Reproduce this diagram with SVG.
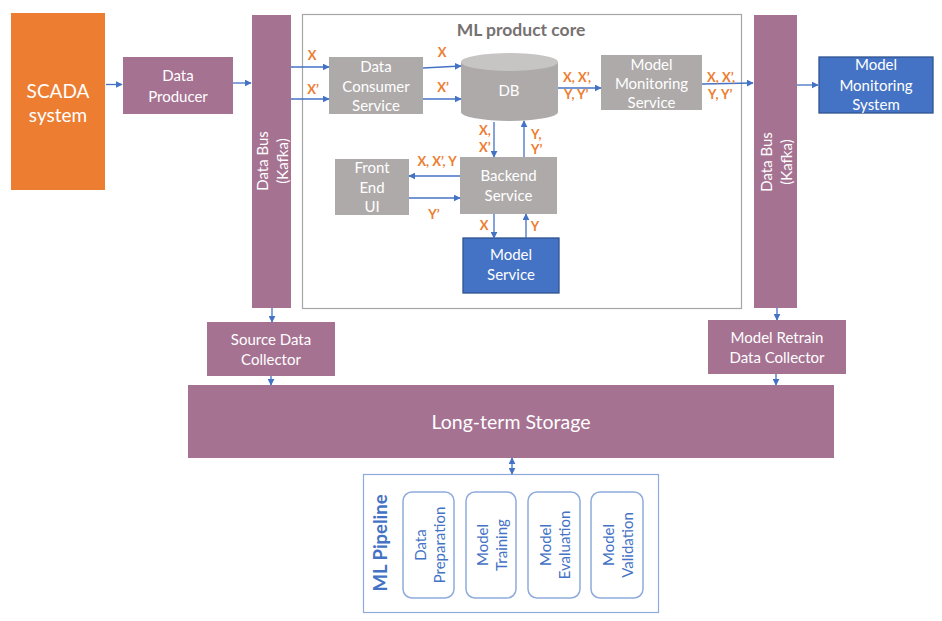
<svg xmlns="http://www.w3.org/2000/svg" width="942" height="621" viewBox="0 0 942 621">
<defs>
<marker id="ah" viewBox="0 0 10 10" refX="9" refY="5" markerWidth="7" markerHeight="7" markerUnits="userSpaceOnUse" orient="auto-start-reverse">
<path d="M0,0 L10,5 L0,10 z" fill="#4472C4"/>
</marker>
<style>
text{font-family:Lato,"Open Sans","Liberation Sans",sans-serif;}
.w{fill:#fff;font-size:15px;text-anchor:middle;}
.big{fill:#fff;font-size:19px;text-anchor:middle;}
.lts{fill:#fff;font-size:19.5px;text-anchor:middle;}
.lbl{fill:#ED7D31;font-size:13px;font-weight:bold;}
.c{text-anchor:middle;}
.purple{fill:#A67292;}
.gray{fill:#AEAAAA;}
.blue{fill:#4472C4;stroke:#2F528F;stroke-width:1.3;}
.conn line{stroke:#4472C4;stroke-width:1.3;marker-end:url(#ah);}
.pl{fill:#fff;stroke:#8FAADC;stroke-width:1.5;}
.pt{fill:#4472C4;font-size:15px;text-anchor:middle;}
</style>
</defs>
<rect width="942" height="621" fill="#fff"/>

<g id="ml-core">
<rect x="302.5" y="14.5" width="439" height="294" fill="none" stroke="#A6A6A6" stroke-width="1.2"/>
<text x="521" y="36" class="c" style="fill:#767171;font-size:17.5px;font-weight:bold">ML product core</text>
</g>

<g id="scada">
<rect x="11" y="13" width="94" height="177" fill="#ED7D31"/>
<text class="big" x="58" y="98">SCADA</text>
<text class="big" x="58" y="122">system</text>
</g>

<g id="data-producer">
<rect class="purple" x="123" y="57" width="110" height="57"/>
<text class="w" x="178" y="81">Data</text>
<text class="w" x="178" y="102">Producer</text>
</g>

<g id="data-bus-left">
<rect class="purple" x="252" y="15" width="39" height="293"/>
<text class="w" transform="translate(271,161) rotate(-90)"><tspan x="0" y="-3">Data Bus</tspan><tspan x="0" y="17">(Kafka)</tspan></text>
</g>

<g id="data-consumer">
<rect class="gray" x="329" y="57" width="94" height="57"/>
<text class="w" x="376" y="72">Data</text>
<text class="w" x="376" y="92">Consumer</text>
<text class="w" x="376" y="111">Service</text>
</g>

<g id="db">
<path d="M461,62 L461,112 A48.5,9 0 0 0 558,112 L558,62 z" fill="#AEAAAA"/>
<ellipse cx="509.5" cy="62" rx="48.5" ry="9" fill="#C7C4C4"/>
<text class="w" x="509" y="96">DB</text>
</g>

<g id="model-monitoring-service">
<rect class="gray" x="601" y="55" width="101" height="55"/>
<text class="w" x="651.5" y="70">Model</text>
<text class="w" x="651.5" y="89">Monitoring</text>
<text class="w" x="651.5" y="108">Service</text>
</g>

<g id="data-bus-right">
<rect class="purple" x="754" y="15" width="43" height="293"/>
<text class="w" transform="translate(777,162) rotate(-90)"><tspan x="0" y="-5">Data Bus</tspan><tspan x="0" y="15">(Kafka)</tspan></text>
</g>

<g id="model-monitoring-system">
<rect class="blue" x="819" y="57" width="114" height="56"/>
<text class="w" x="876" y="70">Model</text>
<text class="w" x="876" y="91">Monitoring</text>
<text class="w" x="876" y="110">System</text>
</g>

<g id="front-end-ui">
<rect class="gray" x="335" y="159" width="74" height="56"/>
<text class="w" x="372" y="173">Front</text>
<text class="w" x="372" y="193">End</text>
<text class="w" x="372" y="212">UI</text>
</g>

<g id="backend-service">
<rect class="gray" x="460" y="157" width="97" height="57"/>
<text class="w" x="508.5" y="181">Backend</text>
<text class="w" x="508.5" y="201">Service</text>
</g>

<g id="model-service">
<rect class="blue" x="463" y="238" width="96" height="55"/>
<text class="w" x="511" y="260">Model</text>
<text class="w" x="511" y="280">Service</text>
</g>

<g id="source-data-collector">
<rect class="purple" x="207" y="322" width="128" height="54"/>
<text class="w" x="271" y="345">Source Data</text>
<text class="w" x="271" y="365">Collector</text>
</g>

<g id="model-retrain-collector">
<rect class="purple" x="708" y="320" width="138" height="54"/>
<text class="w" x="777" y="343">Model Retrain</text>
<text class="w" x="777" y="363">Data Collector</text>
</g>

<g id="long-term-storage">
<rect class="purple" x="188" y="385" width="646" height="73"/>
<text class="lts" x="511" y="429">Long-term Storage</text>
</g>

<g id="ml-pipeline">
<rect x="363.5" y="474.5" width="295" height="138" fill="#fff" stroke="#8FAADC" stroke-width="1.2"/>
<text transform="translate(387,543) rotate(-90)" class="c" style="fill:#4472C4;font-size:18.5px;font-weight:bold">ML Pipeline</text>
<g id="data-preparation">
<rect class="pl" x="403" y="492" width="51" height="106" rx="9"/>
<text class="pt" transform="translate(428.5,545) rotate(-90)"><tspan x="0" y="-3">Data</tspan><tspan x="0" y="16">Preparation</tspan></text>
</g>
<g id="model-training">
<rect class="pl" x="466" y="492" width="50" height="106" rx="9"/>
<text class="pt" transform="translate(491,545) rotate(-90)"><tspan x="0" y="-3">Model</tspan><tspan x="0" y="16">Training</tspan></text>
</g>
<g id="model-evaluation">
<rect class="pl" x="528" y="492" width="52" height="106" rx="9"/>
<text class="pt" transform="translate(554,545) rotate(-90)"><tspan x="0" y="-3">Model</tspan><tspan x="0" y="16">Evaluation</tspan></text>
</g>
<g id="model-validation">
<rect class="pl" x="591" y="492" width="52" height="106" rx="9"/>
<text class="pt" transform="translate(617,545) rotate(-90)"><tspan x="0" y="-3">Model</tspan><tspan x="0" y="16">Validation</tspan></text>
</g>
</g>

<g id="connectors" class="conn">
<line x1="106" y1="84.5" x2="122" y2="84.5"/>
<line x1="233" y1="83" x2="251" y2="83"/>
<line x1="291" y1="67" x2="329" y2="67"/>
<line x1="291" y1="99" x2="329" y2="99"/>
<line x1="423" y1="68" x2="461" y2="66"/>
<line x1="423" y1="99" x2="461" y2="99"/>
<line x1="558" y1="88" x2="601" y2="88"/>
<line x1="702" y1="84" x2="753" y2="83"/>
<line x1="797" y1="85" x2="818" y2="85"/>
<line x1="494" y1="122" x2="494" y2="157"/>
<line x1="524" y1="157" x2="524" y2="121"/>
<line x1="460" y1="176" x2="409" y2="176"/>
<line x1="409" y1="198" x2="460" y2="198"/>
<line x1="494" y1="214" x2="494" y2="238"/>
<line x1="526" y1="238" x2="526" y2="214"/>
<line x1="272" y1="308" x2="272" y2="322"/>
<line x1="271" y1="376" x2="271" y2="385"/>
<line x1="777" y1="308" x2="777" y2="320"/>
<line x1="776" y1="374" x2="776" y2="385"/>
<line x1="512" y1="458" x2="512" y2="474" style="marker-start:url(#ah)"/>
</g>

<g id="connector-labels">
<text class="lbl c" x="312" y="60">X</text>
<text class="lbl c" x="313" y="94">X’</text>
<text class="lbl c" x="442" y="57">X</text>
<text class="lbl c" x="443" y="92">X’</text>
<text class="lbl" x="563" y="82">X, X’,</text>
<text class="lbl" x="564" y="99">Y, Y’</text>
<text class="lbl" x="707" y="82">X, X’,</text>
<text class="lbl" x="708" y="99">Y, Y’</text>
<text class="lbl" x="479" y="135">X,</text>
<text class="lbl" x="479" y="152">X’</text>
<text class="lbl" x="531" y="139">Y,</text>
<text class="lbl" x="531" y="154">Y’</text>
<text class="lbl c" x="437" y="166">X, X’, Y</text>
<text class="lbl c" x="434" y="219">Y’</text>
<text class="lbl c" x="484" y="230">X</text>
<text class="lbl c" x="535" y="231">Y</text>
</g>
</svg>
